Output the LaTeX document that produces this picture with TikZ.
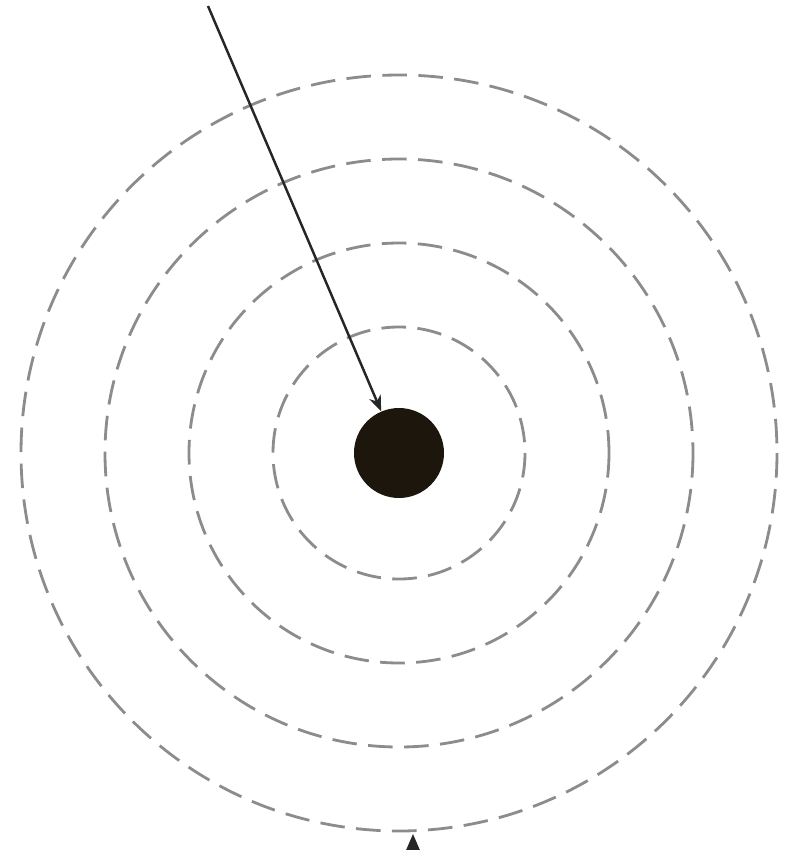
\documentclass[tikz,border=0pt]{standalone}
\usepackage{tikz}
\usetikzlibrary{arrows.meta,positioning,calc}
\definecolor{dotBrown}{HTML}{1C160C}
\definecolor{ringGray}{HTML}{8C8C8C}

\begin{document}
\begin{tikzpicture}[x=0.02cm,y=-0.02cm,
  ring/.style={ringGray,line width=1.6pt,dash pattern=on 14pt off 6.5pt},
  ray/.style={-{Stealth[length=9pt,width=7pt]},black!85,line width=1.4pt}]
\useasboundingbox (0,0) rectangle (789,850);
\clip (0,0) rectangle (789,850);
\coordinate (mid) at (399,453);
\foreach \r in {126,210,294,378}
  \draw[ring] (mid) circle (\r);
\node[circle,fill=dotBrown,minimum size=1.8cm,inner sep=0pt] (dot) at (mid) {};
\coordinate (start) at (208,6);
\draw[ray] (start) -- (dot);
\coordinate (below) at (413,890);
\coordinate (tip) at (413,834);
\draw[ray,-{Stealth[length=14pt,width=12pt]}] (below) -- (tip);
\end{tikzpicture}
\end{document}
